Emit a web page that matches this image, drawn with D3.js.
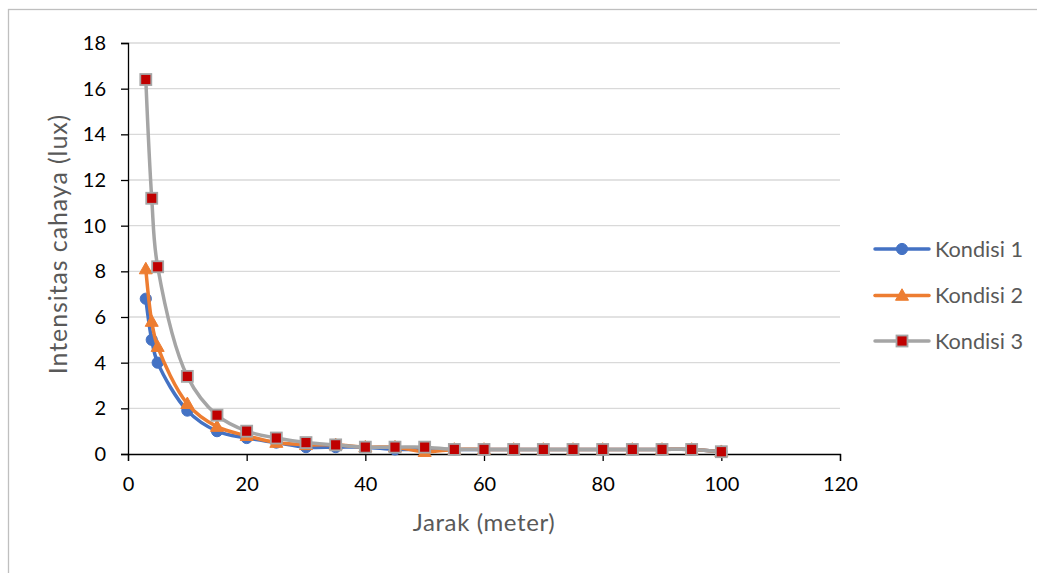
<!DOCTYPE html>
<html>
<head>
<meta charset="utf-8">
<script src="https://cdn.jsdelivr.net/npm/d3@7"></script>
<style>
  html, body { margin: 0; padding: 0; background: #fff; }
  svg { display: block; font-family: Lato, "Open Sans", sans-serif; }
</style>
</head>
<body>
<svg id="chart" width="1037" height="573"></svg>
<script>
// Distance from the lamp (meters)
const jarak = [3, 4, 5, 10, 15, 20, 25, 30, 35, 40, 45, 50, 55, 60, 65, 70, 75, 80, 85, 90, 95, 100];

// Measured light intensity (lux) for each condition
const kondisi1 = [6.8, 5.0, 4.0, 1.9, 1.0, 0.7, 0.5, 0.3, 0.3, 0.3, 0.2, 0.2, 0.2, 0.2, 0.2, 0.2, 0.2, 0.2, 0.2, 0.2, 0.2, 0.1];
const kondisi2 = [8.1, 5.8, 4.7, 2.2, 1.2, 0.8, 0.5, 0.4, 0.4, 0.3, 0.3, 0.1, 0.2, 0.2, 0.2, 0.2, 0.2, 0.2, 0.2, 0.2, 0.2, 0.1];
const kondisi3 = [16.4, 11.2, 8.2, 3.4, 1.7, 1.0, 0.7, 0.5, 0.4, 0.3, 0.3, 0.3, 0.2, 0.2, 0.2, 0.2, 0.2, 0.2, 0.2, 0.2, 0.2, 0.1];

const seriesNames = ["Kondisi 1", "Kondisi 2", "Kondisi 3"];
const xTicks = [0, 20, 40, 60, 80, 100, 120];
const yTicks = [0, 2, 4, 6, 8, 10, 12, 14, 16, 18];

const xTitle = "Jarak (meter)";
const yTitle = "Intensitas cahaya (lux)";

const svg = d3.select("#chart");

// chart frame
svg.append("rect")
  .attr("x", 8.5).attr("y", 9.5)
  .attr("width", 1100).attr("height", 700)
  .attr("fill", "#fff")
  .attr("stroke", "#BFBFBF").attr("stroke-width", 1.3);

const x = d3.scaleLinear().domain([0, 120]).range([128, 840]);
const y = d3.scaleLinear().domain([0, 18]).range([454, 43]);

// horizontal gridlines
svg.append("g").selectAll("line")
  .data(yTicks.filter(d => d > 0))
  .join("line")
  .attr("x1", x(0)).attr("x2", x(120))
  .attr("y1", d => y(d)).attr("y2", d => y(d))
  .attr("stroke", "#D9D9D9").attr("stroke-width", 1.3);

// axes
const yAxis = svg.append("g")
  .attr("transform", `translate(${x(0)},0)`)
  .call(d3.axisLeft(y).tickValues(yTicks).tickSize(7).tickSizeOuter(7).tickPadding(15).tickFormat(d3.format("d")));
const xAxis = svg.append("g")
  .attr("transform", `translate(0,${y(0)})`)
  .call(d3.axisBottom(x).tickValues(xTicks).tickSize(7).tickSizeOuter(7).tickPadding(16).tickFormat(d3.format("d")));

[yAxis, xAxis].forEach(a => {
  a.select(".domain").attr("stroke", "#000").attr("stroke-width", 1.3);
  a.selectAll(".tick line").attr("stroke", "#000").attr("stroke-width", 1.3);
  a.selectAll(".tick text")
    .attr("fill", "#000")
    .style("font-size", "20px")
    .style("font-family", "Lato, sans-serif");
});

// axis titles
svg.append("text")
  .attr("x", 484).attr("y", 531)
  .attr("text-anchor", "middle")
  .attr("fill", "#595959")
  .style("font-size", "24px")
  .style("letter-spacing", "0.6px")
  .text(xTitle);

svg.append("text")
  .attr("transform", `translate(67,244) rotate(-90)`)
  .attr("text-anchor", "middle")
  .attr("fill", "#595959")
  .style("font-size", "25px")
  .style("letter-spacing", "0.9px")
  .text(yTitle);

// series styling
const styles = [
  { color: "#4472C4", marker: "circle" },
  { color: "#ED7D31", marker: "triangle" },
  { color: "#A5A5A5", marker: "square" }
];
const seriesValues = [kondisi1, kondisi2, kondisi3];

const line = d3.line()
  .x(d => x(d[0]))
  .y(d => y(d[1]))
  .curve(d3.curveCatmullRom.alpha(0.5));

function drawMarker(g, kind, cx, cy) {
  if (kind === "circle") {
    g.append("circle")
      .attr("cx", cx).attr("cy", cy).attr("r", 5.6)
      .attr("fill", "#4472C4").attr("stroke", "#4472C4").attr("stroke-width", 1);
  } else if (kind === "triangle") {
    const h = 11.5, w = 13;
    g.append("path")
      .attr("d", `M${cx},${cy - h / 2 - 1}L${cx + w / 2},${cy + h / 2 - 1}L${cx - w / 2},${cy + h / 2 - 1}Z`)
      .attr("fill", "#ED7D31").attr("stroke", "#ED7D31").attr("stroke-width", 1);
  } else {
    const s = 11;
    g.append("rect")
      .attr("x", cx - s / 2).attr("y", cy - s / 2)
      .attr("width", s).attr("height", s)
      .attr("fill", "#C00000").attr("stroke", "#A5A5A5").attr("stroke-width", 1.8);
  }
}

seriesValues.forEach((vals, i) => {
  const pts = jarak.map((d, j) => [d, vals[j]]);
  const g = svg.append("g");
  g.append("path")
    .datum(pts)
    .attr("d", line)
    .attr("fill", "none")
    .attr("stroke", styles[i].color)
    .attr("stroke-width", 3.5)
    .attr("stroke-linejoin", "round")
    .attr("stroke-linecap", "round");
  pts.forEach(p => drawMarker(g, styles[i].marker, x(p[0]), y(p[1])));
});

// legend
const legendY = [249, 295.5, 341];
seriesNames.forEach((name, i) => {
  const g = svg.append("g");
  g.append("line")
    .attr("x1", 875).attr("x2", 929)
    .attr("y1", legendY[i]).attr("y2", legendY[i])
    .attr("stroke", styles[i].color).attr("stroke-width", 3.5)
    .attr("stroke-linecap", "round");
  drawMarker(g, styles[i].marker, 902, legendY[i]);
  g.append("text")
    .attr("x", 935).attr("y", legendY[i])
    .attr("dy", "0.36em")
    .attr("fill", "#595959")
    .style("font-size", "21.7px")
    .text(name);
});
</script>
</body>
</html>
